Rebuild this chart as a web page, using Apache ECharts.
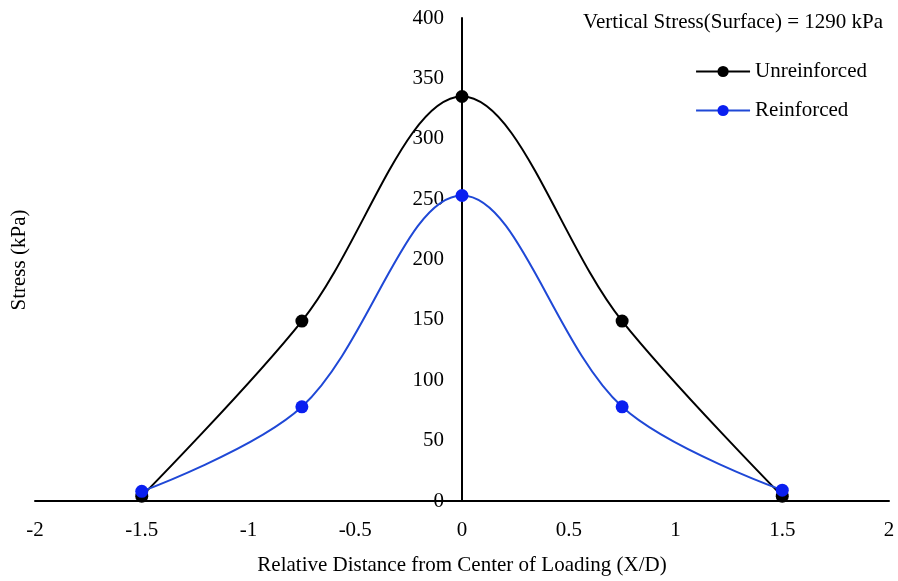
<!DOCTYPE html>
<html>
<head>
<meta charset="utf-8">
<script src="https://cdn.jsdelivr.net/npm/echarts@6/dist/echarts.min.js"></script>
<style>
  body { margin: 0; background: #fff; }
  #figure { width: 898px; height: 581px; }
</style>
</head>
<body>
<div id="figure"></div>
<script>
let x_values = [-1.5, -0.75, 0, 0.75, 1.5];
let unreinforced = [4, 149, 335, 149, 4];
let reinforced = [8, 78, 253, 78, 9];
let note_text = 'Vertical Stress(Surface) = 1290 kPa';

function pairs(xs, ys) {
    let out = [];
    for (let i = 0; i < xs.length; i++) {
        out.push([xs[i], ys[i]]);
    }
    return out;
}

let font = 'Liberation Serif';
let fs = 21;
let grid_left = 35;
let grid_right = 9;
let plot_width = 898 - grid_left - grid_right;

let myChart = echarts.init(document.getElementById('figure'));
myChart.setOption({
    animation: false,
    textStyle: { fontFamily: font },
    title: {
        text: note_text,
        right: 10,
        top: 7,
        textStyle: { fontFamily: font, fontSize: fs, fontWeight: 'normal', color: '#000' }
    },
    legend: {
        orient: 'vertical',
        right: 26,
        top: 56,
        itemWidth: 54,
        itemHeight: 14,
        itemGap: 18,
        textStyle: { fontFamily: font, fontSize: fs, color: '#000' },
        data: ['Unreinforced', 'Reinforced']
    },
    grid: {
        left: grid_left, right: grid_right, top: 18, bottom: 80,
        containLabel: false, outerBoundsMode: 'none'
    },
    xAxis: {
        type: 'value',
        min: -2,
        max: 2,
        interval: 0.5,
        axisLine: { lineStyle: { color: '#000', width: 2 } },
        axisTick: { show: false },
        splitLine: { show: false },
        axisLabel: { color: '#000', fontSize: fs, fontFamily: font, margin: 19 },
        name: 'Relative Distance from Center of Loading (X/D)',
        nameLocation: 'middle',
        nameGap: 54,
        nameTextStyle: { color: '#000', fontSize: fs, fontFamily: font }
    },
    yAxis: {
        type: 'value',
        min: 0,
        max: 400,
        interval: 50,
        position: 'left',
        offset: -plot_width / 2,
        axisLine: { onZero: false, lineStyle: { color: '#000', width: 2 } },
        axisTick: { show: false },
        splitLine: { show: false },
        axisLabel: { color: '#000', fontSize: fs, fontFamily: font, margin: 18 }
    },
    graphic: [{
        type: 'text',
        x: 19,
        y: 260,
        rotation: Math.PI / 2,
        style: {
            text: 'Stress (kPa)',
            font: fs + 'px "Liberation Serif"',
            fill: '#000',
            align: 'center',
            verticalAlign: 'middle'
        }
    }],
    series: [
        {
            name: 'Unreinforced',
            type: 'line',
            smooth: 0.35,
            symbol: 'circle',
            symbolSize: 13,
            lineStyle: { color: '#000', width: 2 },
            itemStyle: { color: '#000' },
            data: pairs(x_values, unreinforced)
        },
        {
            name: 'Reinforced',
            type: 'line',
            smooth: 0.35,
            symbol: 'circle',
            symbolSize: 13,
            lineStyle: { color: '#1f48d6', width: 2 },
            itemStyle: { color: '#0a1ff0' },
            data: pairs(x_values, reinforced)
        }
    ]
});
</script>
</body>
</html>
